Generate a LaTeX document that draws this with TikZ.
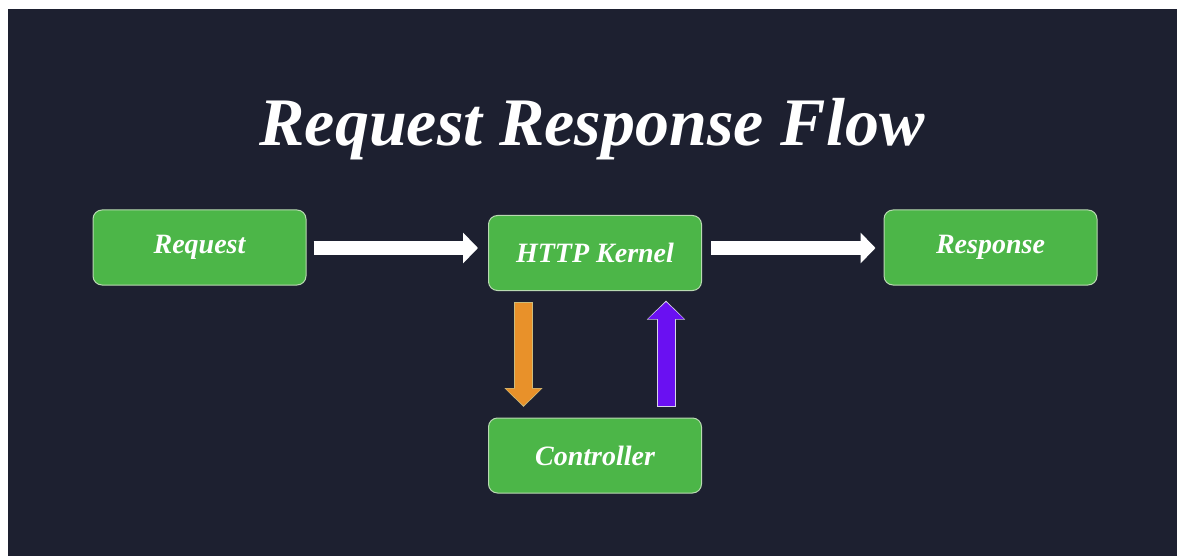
\documentclass[tikz,border=0pt]{standalone}
\usepackage{fontspec}
\setmainfont{Liberation Serif}
\usetikzlibrary{arrows.meta,calc}
\definecolor{bgdark}{HTML}{1D2030}
\definecolor{boxgreen}{HTML}{4CB648}
\definecolor{boxedge}{HTML}{B9D9B2}
\definecolor{callorange}{HTML}{E8912A}
\definecolor{backpurple}{HTML}{6A10F2}
\definecolor{tipedge}{HTML}{D8D4E8}
\tikzset{
  flowbox/.style={draw=boxedge, line width=1pt, fill=boxgreen, rounded corners=9pt,
    minimum width=213pt, minimum height=75pt, inner sep=0pt, text=white,
    font=\fontsize{28}{31}\selectfont\bfseries\itshape},
  passarrow/.style={draw=white, line width=14pt,
    -{Triangle[width=30pt,length=15pt]}},
  edgearrow/.style={draw=tipedge, line width=19pt,
    -{Triangle[width=37pt,length=19pt]}},
  vertarrow/.style={line width=17pt,
    -{Triangle[width=35pt,length=17pt]}},
}
\begin{document}
\begin{tikzpicture}[x=1pt,y=-1pt]
  % canvas with a thin light frame on the top and left
  \fill[white] (0,0) rectangle (1178,556);
  \fill[bgdark] (8,9) rectangle (1177,556);
  \useasboundingbox (0,0) rectangle (1178,556);

  % title
  \node[text=white, font=\fontsize{68}{72}\selectfont\bfseries\itshape, anchor=base]
    (title) at (592,146) {Request Response Flow};

  % boxes
  \node[flowbox] (req)  at (199.5,247.5) {Request};
  \node[flowbox] (kern) at (595,253)     {HTTP Kernel};
  \node[flowbox] (resp) at (990.5,247.5) {Response};
  \node[flowbox] (ctrl) at (595,455.5)   {Controller};

  % horizontal flow
  \draw[passarrow] ($(req.east)+(7,0.5)$) -- ($(kern.west|-req.east)+(-10,0.5)$);
  \draw[passarrow] ($(kern.east|-resp.west)+(9,0.5)$) -- ($(resp.west)+(-8,0.5)$);

  % kernel -> controller
  \coordinate (dnA) at ($(kern.south)+(-71.5,12)$);
  \coordinate (dnB) at ($(ctrl.north)+(-71.5,-12)$);
  \draw[edgearrow, line width=19pt, draw=boxedge!60!callorange] ($(dnA)+(0,-1)$) -- ($(dnB)+(0,1.5)$);
  \draw[vertarrow, draw=callorange] (dnA) -- (dnB);

  % controller -> kernel
  \coordinate (upA) at ($(ctrl.north)+(71,-12)$);
  \coordinate (upB) at ($(kern.south)+(71,11)$);
  \draw[edgearrow] ($(upA)+(0,1)$) -- ($(upB)+(0,-1.5)$);
  \draw[vertarrow, draw=backpurple] (upA) -- (upB);
\end{tikzpicture}
\end{document}
